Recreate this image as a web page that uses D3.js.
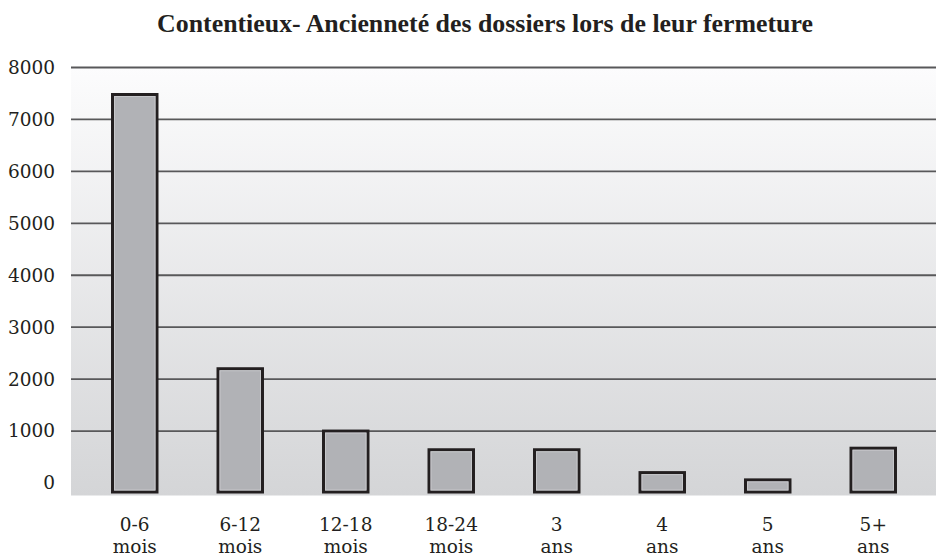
<!DOCTYPE html>
<html>
<head>
<meta charset="utf-8">
<script src="https://cdn.jsdelivr.net/npm/d3@7"></script>
<style>
  html, body { margin: 0; padding: 0; background: #ffffff; }
  svg { display: block; }
</style>
</head>
<body>
<svg id="chart" width="936" height="558"></svg>
<script>
const categories = ["0-6|mois", "6-12|mois", "12-18|mois", "18-24|mois", "3|ans", "4|ans", "5|ans", "5+|ans"];
const values = [7480, 2200, 1000, 640, 640, 200, 60, 670];
const yTicks = [0, 1000, 2000, 3000, 4000, 5000, 6000, 7000, 8000];
const title = "Contentieux- Ancienneté des dossiers lors de leur fermeture";

const svg = d3.select("#chart");
const font = "'DejaVu Serif', serif";

const plotLeft = 71, plotRight = 936, plotTop = 67.5, plotBottom = 495.5;

const defs = svg.append("defs");
const grad = defs.append("linearGradient").attr("id", "bg").attr("x1", 0).attr("y1", 0).attr("x2", 0).attr("y2", 1);
grad.append("stop").attr("offset", "0%").attr("stop-color", "#fcfcfd");
grad.append("stop").attr("offset", "100%").attr("stop-color", "#d4d5d7");

svg.append("rect")
  .attr("x", plotLeft).attr("y", plotTop)
  .attr("width", plotRight - plotLeft).attr("height", plotBottom - plotTop)
  .attr("fill", "url(#bg)");

const x = d3.scaleBand().domain(categories).range([82, 926]).paddingInner(0.55).paddingOuter(0.275);
const y = d3.scaleLinear().domain([0, 8000]).range([483, 67.5]);

// gridlines
svg.append("g").selectAll("line").data(yTicks.filter(d => d > 0)).join("line")
  .attr("x1", plotLeft).attr("x2", plotRight)
  .attr("y1", d => y(d)).attr("y2", d => y(d))
  .attr("stroke", "#58585a").attr("stroke-width", 1.8);

// y labels via axis
const yAxis = svg.append("g").attr("transform", "translate(55,0)")
  .call(d3.axisLeft(y).tickValues(yTicks).tickSize(0).tickPadding(0).tickFormat(d3.format("d")));
yAxis.select(".domain").remove();
yAxis.selectAll("text").attr("font-family", font).attr("font-size", 18.5).attr("fill", "#231f20");

// bars
const barBottom = 492;
const bars = svg.append("g");
bars.selectAll("rect.bar").data(values).join("rect").attr("class", "bar")
  .attr("x", (d, i) => x(categories[i]) + 1.5)
  .attr("width", x.bandwidth() - 3)
  .attr("y", d => y(d))
  .attr("height", d => barBottom - y(d))
  .attr("fill", "#b1b2b6")
  .attr("stroke", "#231f20").attr("stroke-width", 3);
bars.selectAll("rect.inner").data(values).join("rect").attr("class", "inner")
  .attr("x", (d, i) => x(categories[i]) + 3.5)
  .attr("width", x.bandwidth() - 7)
  .attr("y", d => y(d) + 2)
  .attr("height", d => Math.max(0, barBottom - y(d) - 4))
  .attr("fill", "none")
  .attr("stroke", "#c6c7ca").attr("stroke-width", 1);

// x labels
const xl = svg.append("g");
categories.forEach(c => {
  const parts = c.split("|");
  const cx = x(c) + x.bandwidth() / 2;
  parts.forEach((p, j) => {
    xl.append("text").attr("x", cx).attr("y", 531 + j * 22)
      .attr("text-anchor", "middle")
      .attr("font-family", font).attr("font-size", 18.5).attr("fill", "#231f20")
      .text(p);
  });
});

// title
const t = svg.append("text").attr("x", 485).attr("y", 32)
  .attr("text-anchor", "middle")
  .attr("font-family", "'Liberation Serif', serif").attr("font-weight", "bold").attr("font-size", 21)
  .attr("fill", "#231f20").text(title);
const w = t.node().getComputedTextLength();
if (w > 0) t.attr("font-size", 21 * 656 / w);
</script>
</body>
</html>
